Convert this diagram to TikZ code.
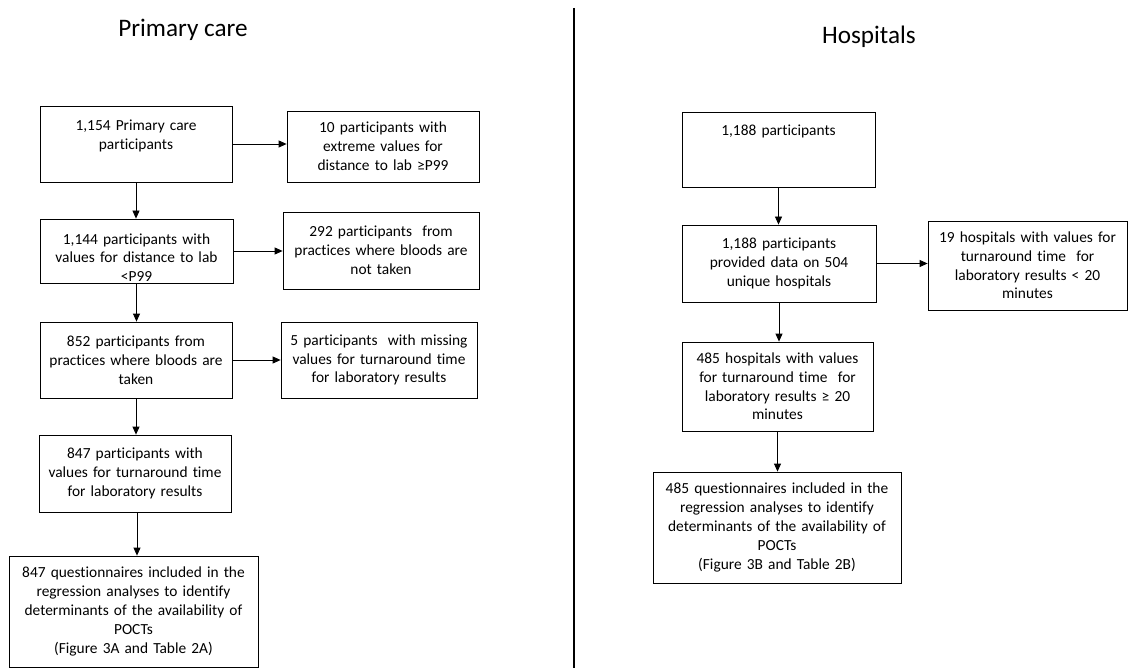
\documentclass[tikz,border=0pt]{standalone}
\usepackage{fontspec}
\setmainfont{Carlito}[Ligatures=NoCommon]
\usetikzlibrary{arrows.meta,positioning,calc}
\newcommand{\boxfont}{\fontsize{15.4}{18.8}\selectfont}
\newcommand{\headfont}{\fontsize{25.2}{30}\selectfont}

\begin{document}
\begin{tikzpicture}[x=1pt,y=-1pt,
  flowbox/.style 2 args={draw,line width=0.8pt,align=center,font=\boxfont,
    inner xsep=2pt,inner ysep=2pt,text width=#1pt-4pt,minimum height=#2pt},
  flowarrow/.style={-{Triangle[length=8pt,width=7pt]},line width=0.8pt}]
  \useasboundingbox (0,0) rectangle (1131,668);
  % headings and divider
  \node[font=\headfont] (pchead) at (183,30) {Primary care};
  \node[font=\headfont] (hoshead) at (869,37) {Hospitals};
  \draw[line width=2pt] (574,8) -- (574,668);

  % primary care
  \node[flowbox={192}{76}] (pc1) at (136,144) {1,154 Primary care\\participants\\\mbox{}};
  \node[flowbox={192}{71}] (pcx1) at (383,146.5) {10 participants with\\extreme values for\\distance to lab ≥P99};
  \node[flowbox={193}{0},inner ysep=0pt,text height=25pt,text depth=39pt] (pc2) at (136.5,251)
    {1,144 participants with\\values for distance to lab\\<P99};
  \node[flowbox={196}{77}] (pcx2) at (381,250.5) {292 participants\ \ from\\practices where bloods are\\not taken};
  \node[flowbox={192}{76}] (pc3) at (136,360) {852 participants from\\practices where bloods are\\taken};
  \node[flowbox={196}{76}] (pcx3) at (379,360) {5 participants\ \ with missing\\values for turnaround time\\for laboratory results};
  \node[flowbox={192}{77}] (pc4) at (135,473.5) {847 participants with\\values for turnaround time\\for laboratory results};
  \node[flowbox={249}{111}] (pc5) at (133.5,611.5) {847 questionnaires included in the\\regression analyses to identify\\determinants of the availability of\\POCTs\\(Figure 3A and Table 2A)};

  \draw[flowarrow] (pc1.east) -- (pc1.east -| pcx1.west);
  \draw[flowarrow] (pc1.south) -- (pc1.south |- pc2.north);
  \draw[flowarrow] (pc2.east) -- (pc2.east -| pcx2.west);
  \draw[flowarrow] (pc2.south) -- (pc2.south |- pc3.north);
  \draw[flowarrow] (pc3.east) -- (pc3.east -| pcx3.west);
  \draw[flowarrow] (pc3.south) -- (pc3.south |- pc4.north);
  \draw[flowarrow] ([xshift=2pt]pc4.south) -- ([xshift=2pt]pc4.south |- pc5.north);

  % hospitals
  \node[flowbox={193}{75}] (hos1) at (778.5,149.5) {1,188 participants\\\mbox{}\\\mbox{}};
  \node[flowbox={194}{77}] (hos2) at (779,263.5) {1,188 participants\\provided data on 504\\unique hospitals};
  \node[flowbox={199}{89}] (hosx1) at (1027.5,265.5) {19 hospitals with values for\\turnaround time\ \ for\\laboratory results < 20\\minutes};
  \node[flowbox={191}{89}] (hos3) at (777.5,386.5) {485 hospitals with values\\for turnaround time\ \ for\\laboratory results ≥ 20\\minutes};
  \node[flowbox={248}{111}] (hos4) at (777,527.5) {485 questionnaires included in the\\regression analyses to identify\\determinants of the availability of\\POCTs\\(Figure 3B and Table 2B)};

  \draw[flowarrow] (hos1.south) -- (hos1.south |- hos2.north);
  \draw[flowarrow] (hos2.east) -- (hos2.east -| hosx1.west);
  \draw[flowarrow] (hos2.south) -- (hos2.south |- hos3.north);
  \draw[flowarrow] (hos3.south) -- (hos3.south |- hos4.north);
\end{tikzpicture}
\end{document}
